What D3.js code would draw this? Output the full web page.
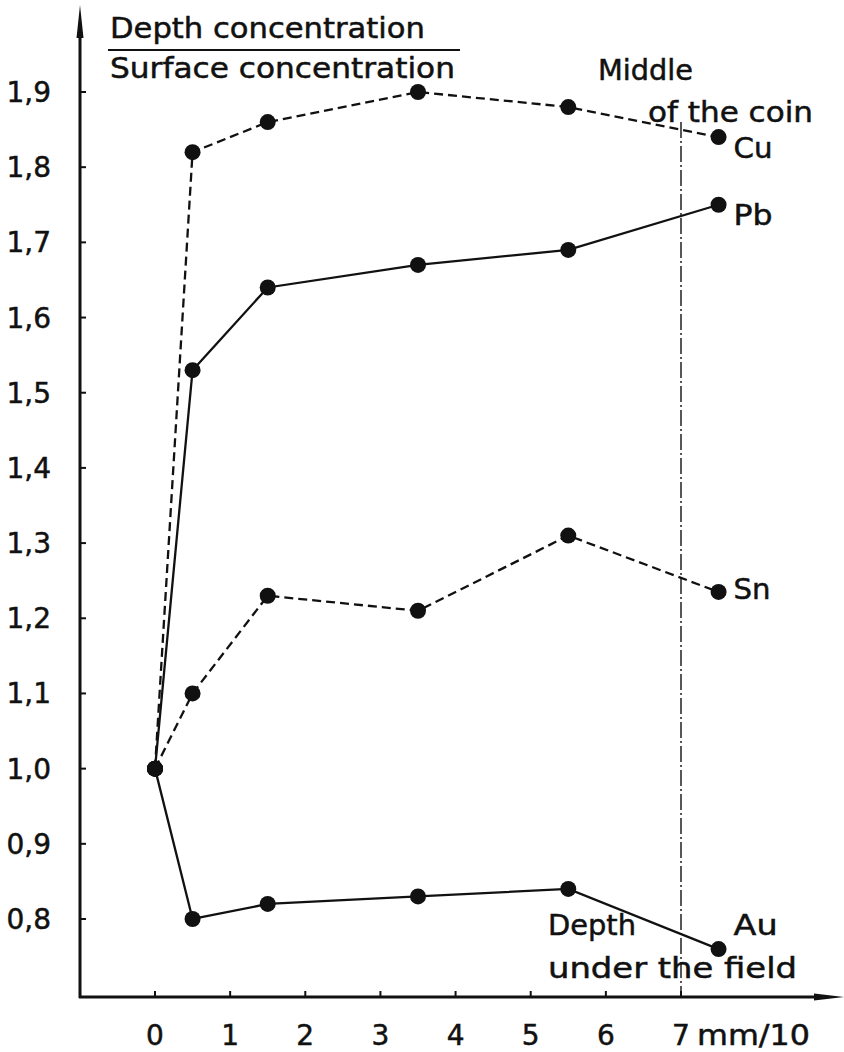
<!DOCTYPE html>
<html>
<head>
<meta charset="utf-8">
<script src="https://cdn.jsdelivr.net/npm/d3@7"></script>
<style>
  html, body { margin: 0; padding: 0; background: #fff; }
  svg text { font-family: "DejaVu Sans", sans-serif; fill: #111; stroke: #111; stroke-width: 0.5px; }
</style>
</head>
<body>
<div id="chart"></div>
<script>
// Data
const depths = [0, 0.5, 1.5, 3.5, 5.5, 7.5];
const cuValues = [1.0, 1.82, 1.86, 1.90, 1.88, 1.84];
const pbValues = [1.0, 1.53, 1.64, 1.67, 1.69, 1.75];
const snValues = [1.0, 1.10, 1.23, 1.21, 1.31, 1.235];
const auValues = [1.0, 0.80, 0.82, 0.83, 0.84, 0.76];
const xTicks = [0, 1, 2, 3, 4, 5, 6, 7];
const yTicks = [0.8, 0.9, 1.0, 1.1, 1.2, 1.3, 1.4, 1.5, 1.6, 1.7, 1.8, 1.9];
const middleDepth = 7;

const series = [
  { name: 'Cu', values: cuValues, dashed: true },
  { name: 'Pb', values: pbValues, dashed: false },
  { name: 'Sn', values: snValues, dashed: true },
  { name: 'Au', values: auValues, dashed: false },
];

// layout
const width = 844;
const height = 1052;
const axisX = 80;    // pixel position of the vertical axis
const axisY = 997;   // pixel position of the horizontal axis
const fontSize = 28;
// label offset from the last point of each series, and label width
const labelOffset = { Cu: [15, 21, 39], Pb: [15, 20, 39], Sn: [15, 7, 37], Au: [15, -14, 44] };

const svg = d3.select('#chart')
  .append('svg')
    .attr('width', width)
    .attr('height', height);

const x = d3.scaleLinear()
  .domain([0, 7])
  .range([155, 681]);

const y = d3.scaleLinear()
  .domain([0.8, 1.9])
  .range([919, 92]);

// small helper for annotation texts, stretched to the width seen in the figure
const addText = (tx, ty, str, len) => {
  const t = svg.append('text')
      .attr('x', tx)
      .attr('y', ty)
      .style('font-size', fontSize + 'px')
      .text(str);
  if (len) t.attr('textLength', len).attr('lengthAdjust', 'spacingAndGlyphs');
  return t;
};

// Axes (plain lines with arrow heads)
svg.append('line')
    .attr('x1', axisX).attr('y1', axisY + 1)
    .attr('x2', axisX).attr('y2', 30)
    .attr('stroke', '#111')
    .attr('stroke-width', 3);

svg.append('path')
    .attr('d', `M${axisX},5 L${axisX + 3.5},38 L${axisX - 3.5},38 Z`)
    .attr('fill', '#111');

svg.append('line')
    .attr('x1', axisX - 1).attr('y1', axisY)
    .attr('x2', 822).attr('y2', axisY)
    .attr('stroke', '#111')
    .attr('stroke-width', 3);

svg.append('path')
    .attr('d', `M844,${axisY} L814,${axisY - 3.5} L814,${axisY + 3.5} Z`)
    .attr('fill', '#111');

// y ticks and labels
const yTickG = svg.append('g')
  .selectAll('g')
  .data(yTicks)
  .join('g');

yTickG.append('line')
    .attr('x1', axisX)
    .attr('x2', axisX + 6)
    .attr('y1', d => y(d))
    .attr('y2', d => y(d))
    .attr('stroke', '#111')
    .attr('stroke-width', 2);

yTickG.append('text')
    .attr('x', 51)
    .attr('y', d => y(d) + 10)
    .attr('text-anchor', 'end')
    .style('font-size', fontSize + 'px')
    .text(d => d3.format('.1f')(d).replace('.', ','));

// x ticks and labels
const xTickG = svg.append('g')
  .selectAll('g')
  .data(xTicks)
  .join('g');

xTickG.append('line')
    .attr('x1', d => x(d))
    .attr('x2', d => x(d))
    .attr('y1', axisY)
    .attr('y2', axisY - 6)
    .attr('stroke', '#111')
    .attr('stroke-width', 2);

xTickG.append('text')
    .attr('x', d => x(d))
    .attr('y', 1045)
    .attr('text-anchor', 'middle')
    .style('font-size', fontSize + 'px')
    .text(d => d);

addText(697, 1045, 'mm/10', 113);

// Middle of the coin (dash-dot line)
svg.append('line')
    .attr('x1', x(middleDepth))
    .attr('x2', x(middleDepth))
    .attr('y1', 122)
    .attr('y2', axisY)
    .attr('stroke', '#111')
    .attr('stroke-width', 1.4)
    .attr('stroke-dasharray', '16,3,2,3');

// Series lines and points
const line = d3.line()
  .x((d, i) => x(depths[i]))
  .y(d => y(d));

const seriesG = svg.append('g')
  .selectAll('g')
  .data(series)
  .join('g');

seriesG.append('path')
    .attr('d', d => line(d.values))
    .attr('fill', 'none')
    .attr('stroke', '#111')
    .attr('stroke-width', 2.3)
    .attr('stroke-dasharray', d => d.dashed ? '9,5' : null);

seriesG.selectAll('circle')
  .data(d => d.values)
  .join('circle')
    .attr('cx', (d, i) => x(depths[i]))
    .attr('cy', d => y(d))
    .attr('r', 8)
    .attr('fill', '#111');

seriesG.append('text')
    .attr('x', d => x(depths[depths.length - 1]) + labelOffset[d.name][0])
    .attr('y', d => y(d.values[d.values.length - 1]) + labelOffset[d.name][1])
    .attr('textLength', d => labelOffset[d.name][2])
    .attr('lengthAdjust', 'spacingAndGlyphs')
    .style('font-size', fontSize + 'px')
    .text(d => d.name);

// Title (ratio)
addText(110, 38, 'Depth concentration', 315);

svg.append('line')
    .attr('x1', 108).attr('x2', 460)
    .attr('y1', 50).attr('y2', 50)
    .attr('stroke', '#111')
    .attr('stroke-width', 2);

addText(110, 78, 'Surface concentration', 345);

// annotations
addText(598, 80, 'Middle', 95);
addText(648, 122, 'of the coin', 165);
addText(548, 935, 'Depth', 88);
addText(548, 978, 'under the field', 249);
</script>
</body>
</html>
